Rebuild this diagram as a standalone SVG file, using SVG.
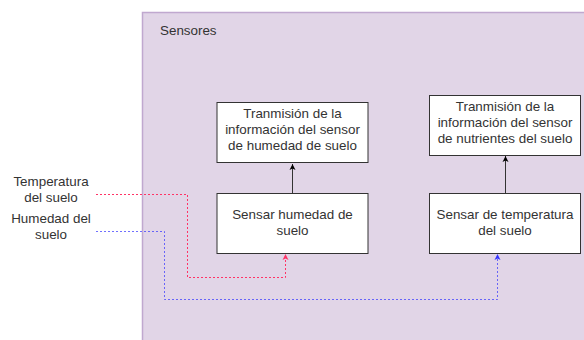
<svg xmlns="http://www.w3.org/2000/svg" width="584" height="340" viewBox="0 0 584 340">
<style>
text{font-family:"Liberation Sans",Arial,sans-serif;font-size:13.4px;fill:#333;text-anchor:middle}
.box{fill:#fff;stroke:#333;stroke-width:1}
.solid{fill:none;stroke:#333;stroke-width:1}
.red{fill:none;stroke:#ff3366;stroke-width:1;stroke-dasharray:2 2}
.blue{fill:none;stroke:#3333ff;stroke-width:1;stroke-dasharray:2 2;stroke-opacity:0.7}
</style>
<defs>
<marker id="ak" markerWidth="8" markerHeight="8" refX="6" refY="4" orient="auto" markerUnits="userSpaceOnUse"><path d="M0,1 L6,4 L0,7 L1.5,4 Z" fill="#000"/></marker>
<marker id="ar" markerWidth="8" markerHeight="8" refX="6" refY="4" orient="auto" markerUnits="userSpaceOnUse"><path d="M0,1 L6,4 L0,7 L1.5,4 Z" fill="#ff3366"/></marker>
<marker id="ab" markerWidth="8" markerHeight="8" refX="6" refY="4" orient="auto" markerUnits="userSpaceOnUse"><path d="M0,1 L6,4 L0,7 L1.5,4 Z" fill="#3333ff"/></marker>
</defs>
<rect width="584" height="340" fill="#fff"/>
<g id="sensores">
<rect x="142.5" y="12.5" width="460" height="340" fill="#e1d5e7" stroke="#c0a8cf" stroke-width="1.5"/>
<text x="160" y="35" style="text-anchor:start">Sensores</text>
</g>
<g id="connectors">
<path class="solid" d="M292.5,193 L292.5,164" marker-end="url(#ak)"/>
<path class="solid" d="M505.5,193 L505.5,156" marker-end="url(#ak)"/>
<path class="red" d="M96,194.5 L187.5,194.5 L187.5,277.5 L285.5,277.5 L285.5,254" marker-end="url(#ar)"/>
<path class="blue" d="M96,231.5 L164.5,231.5 L164.5,299.5 L497.5,299.5 L497.5,254" marker-end="url(#ab)"/>
</g>
<g id="tx1">
<rect class="box" x="217" y="102.5" width="151" height="60"/>
<text x="292.5" y="118">Tranmisión de la</text>
<text x="292.5" y="134">información del sensor</text>
<text x="292.5" y="150">de humedad de suelo</text>
</g>
<g id="tx2">
<rect class="box" x="429.5" y="95.5" width="151" height="60"/>
<text x="505" y="111">Tranmisión de la</text>
<text x="505" y="127">información del sensor</text>
<text x="505" y="143">de nutrientes del suelo</text>
</g>
<g id="s1">
<rect class="box" x="217" y="193.5" width="151" height="60"/>
<text x="292.5" y="219">Sensar humedad de</text>
<text x="292.5" y="235">suelo</text>
</g>
<g id="s2">
<rect class="box" x="429.5" y="193.5" width="151" height="60"/>
<text x="505" y="219">Sensar de temperatura</text>
<text x="505" y="235">del suelo</text>
</g>
<g id="lbl1">
<text x="51" y="186">Temperatura</text>
<text x="51" y="202">del suelo</text>
</g>
<g id="lbl2">
<text x="51" y="223">Humedad del</text>
<text x="51" y="239">suelo</text>
</g>
</svg>
